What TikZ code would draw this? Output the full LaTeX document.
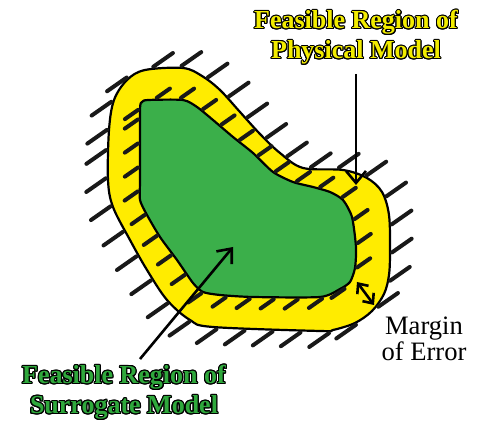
\documentclass[tikz,border=0pt]{standalone}
\usepackage{fontspec}
\setmainfont{Liberation Serif}
\usepackage[copies]{contour}
\usepackage{tikz}
\usetikzlibrary{arrows.meta,decorations.markings}
\definecolor{regionYellow}{HTML}{FFEC00}
\definecolor{regionGreen}{HTML}{3BAF4A}
\definecolor{labelYellow}{HTML}{F2EC00}
\definecolor{labelGreen}{HTML}{2FA83C}
\contourlength{0.55pt}
% one hand-drawn stroke, always at the same slant, on the outer side
\newcommand\hatchstroke[1]{%
  \pgfgettransformentries{\hma}{\hmb}{\hmc}{\hmd}{\hmx}{\hmy}%
  \pgfmathsetmacro\hang{(\hma*0.574-\hmb*0.819)>0 ? 35 : 215}%
  \pgftransformresetnontranslations
  \draw[hatch line] ({-1pt*(\hmb)},{1pt*(\hma)}) -- ++(\hang:#1);}
% outlines of the two regions
\newcommand\physicalShape{plot[smooth cycle, tension=0.55] coordinates {
  (108,180) (109,130) (114,100) (127,80) (145,70) (183,68) (202,76)
  (220,90) (240,112) (260,134) (280,153) (303,168) (343,170) (367,178)
  (382,192) (389,215) (390,250) (389,275) (384,294) (372,311) (355,323)
  (333,330) (320,331) (213,327) (190,320) (167,300) (147,270) (130,240)
  (113,207)}}
\newcommand\surrogateShape{plot[smooth cycle, tension=0.4] coordinates {
  (140,180) (140,110) (142,102) (148,100) (183,100) (197,107) (213,120)
  (233,137) (253,153) (273,172) (293,182) (313,187) (330,192) (343,200)
  (352,217) (356,247) (355,268) (350,282) (340,289) (320,297) (253,297)
  (220,295) (203,292) (193,283) (177,260) (160,237) (147,215) (140,200)}}
\tikzset{
  region outline/.style={draw=black, line width=1.1pt, line join=round},
  hatch line/.style={line width=2pt, line cap=round, draw=black!90},
  outer hatch/.style={decorate, decoration={markings,
    mark=between positions 0 and 0.99 step 14pt with {\hatchstroke{12pt}}}},
  inner hatch/.style={decorate, decoration={markings,
    mark=between positions 0 and 0.99 step 12pt with {\hatchstroke{8pt}}}},
  pointer/.style={-{Straight Barb[length=6pt,width=10pt]}, line width=1.3pt},
  margin pointer/.style={{Straight Barb[length=4pt,width=7pt]}-{Straight Barb[length=4pt,width=7pt]},
    line width=1.3pt},
  feasible label/.style={align=center, inner sep=1pt,
    font=\fontsize{13}{15}\selectfont\bfseries},
  note label/.style={align=center, inner sep=1pt,
    font=\fontsize{13.3}{12}\selectfont}
}
\begin{document}
\begin{tikzpicture}[x=0.5pt, y=-0.5pt]
  \useasboundingbox (0,0) rectangle (478,422);
  % feasible region of the physical model
  \filldraw[region outline, fill=regionYellow] \physicalShape;
  \path[outer hatch] \physicalShape;
  % feasible region of the surrogate model
  \filldraw[region outline, fill=regionGreen] \surrogateShape;
  \path[inner hatch] \surrogateShape;
  % labels
  \node[feasible label, text=labelYellow] (physLabel) at (356,38)
    {\contour{black}{Feasible Region of}\\\contour{black}{Physical Model}};
  \node[feasible label, text=labelGreen] (surrLabel) at (124,393)
    {\contour{black}{Feasible Region of}\\\contour{black}{Surrogate Model}};
  \node[note label] (errLabel) at (424,339) {Margin\\of Error};
  \coordinate (physTip) at (356,185);
  \coordinate (surrTip) at (233,247);
  \coordinate (errInner) at (357,282);
  \coordinate (errOuter) at (374,305);
  \draw[pointer] ([yshift=-3pt]physLabel.south) -- (physTip);
  \draw[pointer] ([xshift=8pt,yshift=2pt]surrLabel.north) -- (surrTip);
  \draw[margin pointer] (errInner) -- (errOuter);
\end{tikzpicture}
\end{document}
